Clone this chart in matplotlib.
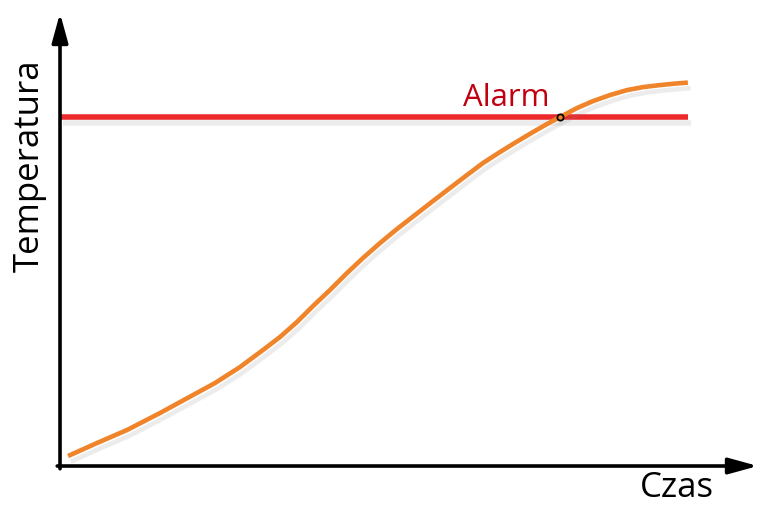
import numpy as np
import matplotlib.pyplot as plt
import matplotlib.patheffects as pe

# curve (time, temperature) in arbitrary 0-100 units
czas = [1.15, 5.30, 9.60, 14.33, 19.05, 22.21, 25.79, 29.08, 31.52, 33.95,
        36.25, 38.68, 41.12, 43.41, 45.85, 48.28, 50.86, 53.44, 55.87, 58.31,
        60.60, 63.04, 65.47, 67.77, 69.77, 71.63, 74.07, 76.36, 78.80, 81.23,
        83.52, 85.96, 88.11, 89.97]
temperatura = [2.21, 5.08, 7.95, 11.70, 15.67, 18.32, 21.85, 25.61, 28.48, 31.79,
               35.32, 38.85, 42.60, 45.92, 49.23, 52.32, 55.41, 58.50, 61.37, 64.24,
               66.89, 69.32, 71.63, 73.73, 75.50, 77.04, 79.03, 80.57, 81.90, 83.00,
               83.66, 84.11, 84.44, 84.66]

alarm_level = 77.0
alarm_x = [0, 90.0]
crossing = (71.63, 77.04)

fig = plt.figure(figsize=(7.61, 5.07), dpi=100)
ax = fig.add_axes([0, 0, 1, 1])
ax.set_xlim(-8.6, 100.45)
ax.set_ylim(-9.05, 102.9)
ax.axis('off')

shadow = [pe.SimpleLineShadow(offset=(2, -4), shadow_color='gray', alpha=0.15), pe.Normal()]

# alarm line
ax.plot(alarm_x, [alarm_level, alarm_level], color='#EC2A2C', lw=4, solid_capstyle='butt',
        path_effects=shadow, zorder=2)
# temperature curve
ax.plot(czas, temperatura, color='#F0842A', lw=3.3, solid_capstyle='butt',
        solid_joinstyle='round', path_effects=shadow, zorder=3)
ax.plot(*crossing, 'o', ms=4.5, mfc='#F0842A', mec='black', mew=1.3, zorder=4)

ax.text(63.9, 79.5, 'Alarm', color='#C00010', fontsize=22.5, family='Open Sans',
        ha='center', va='baseline')

# axes with arrows
arrow = dict(arrowstyle='-|>,head_length=0.8,head_width=0.22', lw=2.6, color='black',
             mutation_scale=22, shrinkA=0, shrinkB=0)
ax.annotate('', xy=(0, 100), xytext=(0, -0.6), arrowprops=arrow, zorder=5)
ax.annotate('', xy=(100, 0), xytext=(-0.4, 0), arrowprops=arrow, zorder=5)

ax.text(-4.3, 66.4, 'Temperatura', rotation=90, fontsize=25, family='Open Sans',
        ha='center', va='center')
ax.text(88.4, -4.9, 'Czas', fontsize=25, family='Open Sans', ha='center', va='center')

plt.savefig('out.png', dpi=100)
